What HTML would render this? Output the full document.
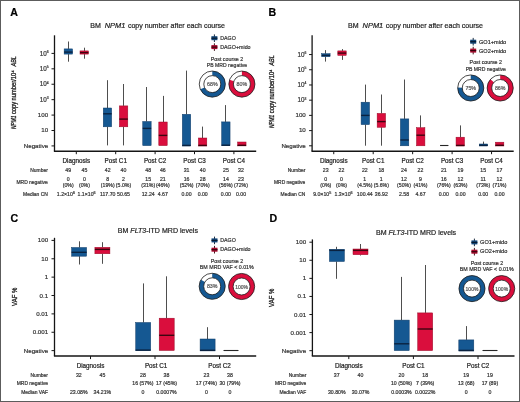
<!DOCTYPE html>
<html><head><meta charset="utf-8"><style>
html,body{margin:0;padding:0;background:#fff;width:520px;height:402px;overflow:hidden;}
svg{display:block;will-change:transform;font-family:"Liberation Sans", sans-serif;}
text{stroke-width:0.2px;paint-order:stroke;}
</style></head><body>
<svg width="520" height="402" viewBox="0 0 520 402" font-family='"Liberation Sans", sans-serif'>
<rect x="0" y="0" width="520" height="402" fill="#ffffff"/>
<text x="10.20" y="16.30" font-size="10.6" fill="#000" font-weight="bold" stroke="#000">A</text>
<text y="27.6" font-size="7.05" fill="#222" stroke="#222"><tspan x="90.2">BM</tspan><tspan x="104.7" font-style="italic" textLength="20.6" lengthAdjust="spacingAndGlyphs">NPM1</tspan><tspan x="127.9">copy number after each course</tspan></text>
<line x1="54.50" y1="35.30" x2="54.50" y2="151.30" stroke="#151515" stroke-width="1.3"/>
<line x1="53.90" y1="151.30" x2="256.20" y2="151.30" stroke="#151515" stroke-width="1.4"/>
<line x1="51.50" y1="53.40" x2="54.50" y2="53.40" stroke="#151515" stroke-width="1"/>
<text x="48.7" y="55.5" font-size="6.3" text-anchor="end" fill="#333333" stroke="#333333">10<tspan font-size="3.4" dy="-2.6">6</tspan></text>
<line x1="51.50" y1="68.82" x2="54.50" y2="68.82" stroke="#151515" stroke-width="1"/>
<text x="48.7" y="70.91999999999999" font-size="6.3" text-anchor="end" fill="#333333" stroke="#333333">10<tspan font-size="3.4" dy="-2.6">5</tspan></text>
<line x1="51.50" y1="84.24" x2="54.50" y2="84.24" stroke="#151515" stroke-width="1"/>
<text x="48.7" y="86.33999999999999" font-size="6.3" text-anchor="end" fill="#333333" stroke="#333333">10<tspan font-size="3.4" dy="-2.6">4</tspan></text>
<line x1="51.50" y1="99.66" x2="54.50" y2="99.66" stroke="#151515" stroke-width="1"/>
<text x="48.7" y="101.75999999999999" font-size="6.3" text-anchor="end" fill="#333333" stroke="#333333">10<tspan font-size="3.4" dy="-2.6">3</tspan></text>
<line x1="51.50" y1="115.08" x2="54.50" y2="115.08" stroke="#151515" stroke-width="1"/>
<text x="48.20" y="116.78" font-size="6.2" text-anchor="end" fill="#333333" stroke="#333333">100</text>
<line x1="51.50" y1="130.50" x2="54.50" y2="130.50" stroke="#151515" stroke-width="1"/>
<text x="48.20" y="132.20" font-size="6.2" text-anchor="end" fill="#333333" stroke="#333333">10</text>
<line x1="51.50" y1="145.92" x2="54.50" y2="145.92" stroke="#151515" stroke-width="1"/>
<text x="48.20" y="147.62" font-size="6.2" text-anchor="end" fill="#333333" stroke="#333333">Negative</text>
<text transform="translate(16.3,128.90) rotate(-90)" x="0" y="0" font-size="6.7" fill="#222" font-style="italic" textLength="13.4" lengthAdjust="spacingAndGlyphs" style="stroke-width:0.3px" stroke="#222">NPM1</text>
<text transform="translate(16.3,114.10) rotate(-90)" x="0" y="0" font-size="6.7" fill="#222" textLength="12.4" lengthAdjust="spacingAndGlyphs" style="stroke-width:0.3px" stroke="#222">copy</text>
<text transform="translate(16.3,100.40) rotate(-90)" x="0" y="0" font-size="6.7" fill="#222" textLength="30.2" lengthAdjust="spacingAndGlyphs" style="stroke-width:0.3px" stroke="#222">number/10⁴</text>
<text transform="translate(16.3,66.50) rotate(-90)" x="0" y="0" font-size="6.7" fill="#222" font-style="italic" textLength="10.4" lengthAdjust="spacingAndGlyphs" style="stroke-width:0.3px" stroke="#222">ABL</text>
<line x1="76.30" y1="151.20" x2="76.30" y2="154.20" stroke="#151515" stroke-width="1"/>
<text x="76.30" y="163.00" font-size="6.3" text-anchor="middle" fill="#222" stroke="#222">Diagnosis</text>
<line x1="115.70" y1="151.20" x2="115.70" y2="154.20" stroke="#151515" stroke-width="1"/>
<text x="115.70" y="163.00" font-size="6.3" text-anchor="middle" fill="#222" stroke="#222">Post C1</text>
<line x1="155.10" y1="151.20" x2="155.10" y2="154.20" stroke="#151515" stroke-width="1"/>
<text x="155.10" y="163.00" font-size="6.3" text-anchor="middle" fill="#222" stroke="#222">Post C2</text>
<line x1="194.50" y1="151.20" x2="194.50" y2="154.20" stroke="#151515" stroke-width="1"/>
<text x="194.50" y="163.00" font-size="6.3" text-anchor="middle" fill="#222" stroke="#222">Post C3</text>
<line x1="233.90" y1="151.20" x2="233.90" y2="154.20" stroke="#151515" stroke-width="1"/>
<text x="233.90" y="163.00" font-size="6.3" text-anchor="middle" fill="#222" stroke="#222">Post C4</text>
<line x1="68.50" y1="41.50" x2="68.50" y2="48.90" stroke="#4e4e4e" stroke-width="1.0"/>
<line x1="68.50" y1="54.10" x2="68.50" y2="61.70" stroke="#4e4e4e" stroke-width="1.0"/>
<rect x="64.15" y="48.90" width="8.40" height="5.20" fill="#155892" stroke="#0f3b66" stroke-width="0.5"/>
<line x1="64.15" y1="52.10" x2="72.55" y2="52.10" stroke="#0a2240" stroke-width="1.4"/>
<line x1="84.50" y1="47.70" x2="84.50" y2="50.90" stroke="#4e4e4e" stroke-width="1.0"/>
<line x1="84.50" y1="54.10" x2="84.50" y2="58.70" stroke="#4e4e4e" stroke-width="1.0"/>
<rect x="80.00" y="50.90" width="8.40" height="3.20" fill="#da0e3d" stroke="#9a0a26" stroke-width="0.5"/>
<line x1="80.00" y1="52.60" x2="88.40" y2="52.60" stroke="#3d0510" stroke-width="1.4"/>
<line x1="107.50" y1="80.20" x2="107.50" y2="108.00" stroke="#4e4e4e" stroke-width="1.0"/>
<line x1="107.50" y1="126.80" x2="107.50" y2="145.40" stroke="#4e4e4e" stroke-width="1.0"/>
<rect x="103.25" y="108.00" width="8.40" height="18.80" fill="#155892" stroke="#0f3b66" stroke-width="0.5"/>
<line x1="103.25" y1="113.80" x2="111.65" y2="113.80" stroke="#0a2240" stroke-width="1.4"/>
<line x1="123.50" y1="84.00" x2="123.50" y2="105.90" stroke="#4e4e4e" stroke-width="1.0"/>
<line x1="123.50" y1="126.80" x2="123.50" y2="145.40" stroke="#4e4e4e" stroke-width="1.0"/>
<rect x="119.40" y="105.90" width="8.40" height="20.90" fill="#da0e3d" stroke="#9a0a26" stroke-width="0.5"/>
<line x1="119.40" y1="119.10" x2="127.80" y2="119.10" stroke="#3d0510" stroke-width="1.4"/>
<line x1="146.50" y1="87.00" x2="146.50" y2="121.50" stroke="#4e4e4e" stroke-width="1.0"/>
<rect x="142.75" y="121.50" width="8.40" height="24.10" fill="#155892" stroke="#0f3b66" stroke-width="0.5"/>
<line x1="142.75" y1="128.40" x2="151.15" y2="128.40" stroke="#0a2240" stroke-width="1.4"/>
<line x1="163.50" y1="95.90" x2="163.50" y2="122.00" stroke="#4e4e4e" stroke-width="1.0"/>
<rect x="158.80" y="122.00" width="8.40" height="23.60" fill="#da0e3d" stroke="#9a0a26" stroke-width="0.5"/>
<line x1="158.80" y1="135.40" x2="167.20" y2="135.40" stroke="#3d0510" stroke-width="1.4"/>
<line x1="186.50" y1="70.60" x2="186.50" y2="114.30" stroke="#4e4e4e" stroke-width="1.0"/>
<rect x="182.30" y="114.30" width="8.40" height="31.70" fill="#155892" stroke="#0f3b66" stroke-width="0.5"/>
<line x1="182.30" y1="145.40" x2="190.70" y2="145.40" stroke="#0a2240" stroke-width="1.4"/>
<line x1="202.50" y1="126.60" x2="202.50" y2="138.00" stroke="#4e4e4e" stroke-width="1.0"/>
<rect x="198.40" y="138.00" width="8.40" height="8.00" fill="#da0e3d" stroke="#9a0a26" stroke-width="0.5"/>
<line x1="198.40" y1="145.40" x2="206.80" y2="145.40" stroke="#3d0510" stroke-width="1.4"/>
<line x1="225.50" y1="105.10" x2="225.50" y2="121.90" stroke="#4e4e4e" stroke-width="1.0"/>
<rect x="221.65" y="121.90" width="8.40" height="23.80" fill="#155892" stroke="#0f3b66" stroke-width="0.5"/>
<line x1="221.65" y1="145.20" x2="230.05" y2="145.20" stroke="#0a2240" stroke-width="1.4"/>
<rect x="237.65" y="142.00" width="8.40" height="3.90" fill="#da0e3d" stroke="#9a0a26" stroke-width="0.5"/>
<line x1="237.65" y1="145.30" x2="246.05" y2="145.30" stroke="#3d0510" stroke-width="1.4"/>
<line x1="214.40" y1="34.40" x2="214.40" y2="42.00" stroke="#06182c" stroke-width="0.9"/>
<rect x="211.4" y="36.2" width="6" height="4" fill="#124577"/>
<line x1="211.40" y1="38.20" x2="217.40" y2="38.20" stroke="#06182c" stroke-width="1.1"/>
<line x1="214.40" y1="43.30" x2="214.40" y2="50.90" stroke="#2e0208" stroke-width="0.9"/>
<rect x="211.4" y="45.1" width="6" height="4" fill="#a80a2e"/>
<line x1="211.40" y1="47.10" x2="217.40" y2="47.10" stroke="#2e0208" stroke-width="1.1"/>
<text x="220.20" y="40.10" font-size="5.3" fill="#333" stroke="#333">DAGO</text>
<text x="220.20" y="49.00" font-size="5.3" fill="#333" textLength="30.4" lengthAdjust="spacingAndGlyphs" stroke="#333">DAGO+mido</text>
<text x="227.00" y="60.90" font-size="5.3" text-anchor="middle" fill="#333" stroke="#333">Post course 2</text>
<text x="227.00" y="67.10" font-size="5.3" text-anchor="middle" fill="#333" textLength="40.3" lengthAdjust="spacingAndGlyphs" stroke="#333">PB MRD negative</text>
<circle cx="212.3" cy="84.1" r="10.775" fill="none" stroke="#ffffff" stroke-width="4.550000000000001"/>
<circle cx="212.3" cy="84.1" r="10.775" fill="none" stroke="#155892" stroke-width="4.550000000000001" stroke-dasharray="46.04 67.70" transform="rotate(-90 212.3 84.1)"/>
<circle cx="212.3" cy="84.1" r="13.05" fill="none" stroke="#1c1c1c" stroke-width="0.8"/>
<circle cx="212.3" cy="84.1" r="8.5" fill="none" stroke="#1c1c1c" stroke-width="0.8"/>
<text x="212.30" y="86.10" font-size="5.3" text-anchor="middle" fill="#555" stroke="#555">68%</text>
<circle cx="241.9" cy="84.1" r="10.775" fill="none" stroke="#ffffff" stroke-width="4.550000000000001"/>
<circle cx="241.9" cy="84.1" r="10.775" fill="none" stroke="#da0e3d" stroke-width="4.550000000000001" stroke-dasharray="54.16 67.70" transform="rotate(-90 241.9 84.1)"/>
<circle cx="241.9" cy="84.1" r="13.05" fill="none" stroke="#1c1c1c" stroke-width="0.8"/>
<circle cx="241.9" cy="84.1" r="8.5" fill="none" stroke="#1c1c1c" stroke-width="0.8"/>
<text x="241.90" y="86.10" font-size="5.3" text-anchor="middle" fill="#555" stroke="#555">80%</text>
<text x="47.80" y="171.80" font-size="4.95" text-anchor="end" fill="#333333" stroke="#333333">Number</text>
<text x="47.80" y="183.80" font-size="4.95" text-anchor="end" fill="#333333" stroke="#333333">MRD negative</text>
<text x="47.80" y="195.90" font-size="4.95" text-anchor="end" fill="#333333" stroke="#333333">Median CN</text>
<text x="68.20" y="171.90" font-size="5.2" text-anchor="middle" fill="#333333" stroke="#333333">49</text>
<text x="68.20" y="180.80" font-size="5.2" text-anchor="middle" fill="#333333" stroke="#333333">0</text>
<text x="68.20" y="186.70" font-size="5.2" text-anchor="middle" fill="#333333" stroke="#333333">(0%)</text>
<text x="65.9" y="195.9" font-size="5.2" text-anchor="middle" fill="#333333" stroke="#333333">1.2×10<tspan font-size="3.7" dy="-2.0">6</tspan></text>
<text x="84.40" y="171.90" font-size="5.2" text-anchor="middle" fill="#333333" stroke="#333333">45</text>
<text x="84.40" y="180.80" font-size="5.2" text-anchor="middle" fill="#333333" stroke="#333333">0</text>
<text x="84.40" y="186.70" font-size="5.2" text-anchor="middle" fill="#333333" stroke="#333333">(0%)</text>
<text x="86.6" y="195.9" font-size="5.2" text-anchor="middle" fill="#333333" stroke="#333333">1.1×10<tspan font-size="3.7" dy="-2.0">6</tspan></text>
<text x="107.70" y="171.90" font-size="5.2" text-anchor="middle" fill="#333333" stroke="#333333">42</text>
<text x="107.70" y="180.80" font-size="5.2" text-anchor="middle" fill="#333333" stroke="#333333">8</text>
<text x="107.70" y="186.70" font-size="5.2" text-anchor="middle" fill="#333333" stroke="#333333">(19%)</text>
<text x="107.70" y="195.90" font-size="5.2" text-anchor="middle" fill="#333333" stroke="#333333">117.70</text>
<text x="123.50" y="171.90" font-size="5.2" text-anchor="middle" fill="#333333" stroke="#333333">40</text>
<text x="123.50" y="180.80" font-size="5.2" text-anchor="middle" fill="#333333" stroke="#333333">2</text>
<text x="123.50" y="186.70" font-size="5.2" text-anchor="middle" fill="#333333" stroke="#333333">(5.0%)</text>
<text x="123.50" y="195.90" font-size="5.2" text-anchor="middle" fill="#333333" stroke="#333333">50.65</text>
<text x="148.20" y="171.90" font-size="5.2" text-anchor="middle" fill="#333333" stroke="#333333">48</text>
<text x="148.20" y="180.80" font-size="5.2" text-anchor="middle" fill="#333333" stroke="#333333">15</text>
<text x="148.20" y="186.70" font-size="5.2" text-anchor="middle" fill="#333333" stroke="#333333">(31%)</text>
<text x="148.20" y="195.90" font-size="5.2" text-anchor="middle" fill="#333333" stroke="#333333">12.24</text>
<text x="162.80" y="171.90" font-size="5.2" text-anchor="middle" fill="#333333" stroke="#333333">46</text>
<text x="162.80" y="180.80" font-size="5.2" text-anchor="middle" fill="#333333" stroke="#333333">21</text>
<text x="162.80" y="186.70" font-size="5.2" text-anchor="middle" fill="#333333" stroke="#333333">(46%)</text>
<text x="162.80" y="195.90" font-size="5.2" text-anchor="middle" fill="#333333" stroke="#333333">4.67</text>
<text x="186.60" y="171.90" font-size="5.2" text-anchor="middle" fill="#333333" stroke="#333333">31</text>
<text x="186.60" y="180.80" font-size="5.2" text-anchor="middle" fill="#333333" stroke="#333333">16</text>
<text x="186.60" y="186.70" font-size="5.2" text-anchor="middle" fill="#333333" stroke="#333333">(52%)</text>
<text x="186.60" y="195.90" font-size="5.2" text-anchor="middle" fill="#333333" stroke="#333333">0.00</text>
<text x="202.70" y="171.90" font-size="5.2" text-anchor="middle" fill="#333333" stroke="#333333">40</text>
<text x="202.70" y="180.80" font-size="5.2" text-anchor="middle" fill="#333333" stroke="#333333">28</text>
<text x="202.70" y="186.70" font-size="5.2" text-anchor="middle" fill="#333333" stroke="#333333">(70%)</text>
<text x="202.70" y="195.90" font-size="5.2" text-anchor="middle" fill="#333333" stroke="#333333">0.00</text>
<text x="225.90" y="171.90" font-size="5.2" text-anchor="middle" fill="#333333" stroke="#333333">25</text>
<text x="225.90" y="180.80" font-size="5.2" text-anchor="middle" fill="#333333" stroke="#333333">14</text>
<text x="225.90" y="186.70" font-size="5.2" text-anchor="middle" fill="#333333" stroke="#333333">(56%)</text>
<text x="225.90" y="195.90" font-size="5.2" text-anchor="middle" fill="#333333" stroke="#333333">0.00</text>
<text x="241.00" y="171.90" font-size="5.2" text-anchor="middle" fill="#333333" stroke="#333333">32</text>
<text x="241.00" y="180.80" font-size="5.2" text-anchor="middle" fill="#333333" stroke="#333333">23</text>
<text x="241.00" y="186.70" font-size="5.2" text-anchor="middle" fill="#333333" stroke="#333333">(72%)</text>
<text x="241.00" y="195.90" font-size="5.2" text-anchor="middle" fill="#333333" stroke="#333333">0.00</text>
<text x="268.50" y="16.30" font-size="10.6" fill="#000" font-weight="bold" stroke="#000">B</text>
<text y="27.6" font-size="7.05" fill="#222" stroke="#222"><tspan x="348.1">BM</tspan><tspan x="362.6" font-style="italic" textLength="20.6" lengthAdjust="spacingAndGlyphs">NPM1</tspan><tspan x="385.8">copy number after each course</tspan></text>
<line x1="312.10" y1="35.30" x2="312.10" y2="151.30" stroke="#151515" stroke-width="1.3"/>
<line x1="311.50" y1="151.30" x2="513.70" y2="151.30" stroke="#151515" stroke-width="1.4"/>
<line x1="309.10" y1="54.55" x2="312.10" y2="54.55" stroke="#151515" stroke-width="1"/>
<text x="306.3" y="56.65" font-size="6.3" text-anchor="end" fill="#333333" stroke="#333333">10<tspan font-size="3.4" dy="-2.6">6</tspan></text>
<line x1="309.10" y1="69.76" x2="312.10" y2="69.76" stroke="#151515" stroke-width="1"/>
<text x="306.3" y="71.85999999999999" font-size="6.3" text-anchor="end" fill="#333333" stroke="#333333">10<tspan font-size="3.4" dy="-2.6">5</tspan></text>
<line x1="309.10" y1="84.97" x2="312.10" y2="84.97" stroke="#151515" stroke-width="1"/>
<text x="306.3" y="87.07" font-size="6.3" text-anchor="end" fill="#333333" stroke="#333333">10<tspan font-size="3.4" dy="-2.6">4</tspan></text>
<line x1="309.10" y1="100.18" x2="312.10" y2="100.18" stroke="#151515" stroke-width="1"/>
<text x="306.3" y="102.28" font-size="6.3" text-anchor="end" fill="#333333" stroke="#333333">10<tspan font-size="3.4" dy="-2.6">3</tspan></text>
<line x1="309.10" y1="115.39" x2="312.10" y2="115.39" stroke="#151515" stroke-width="1"/>
<text x="305.80" y="117.09" font-size="6.2" text-anchor="end" fill="#333333" stroke="#333333">100</text>
<line x1="309.10" y1="130.60" x2="312.10" y2="130.60" stroke="#151515" stroke-width="1"/>
<text x="305.80" y="132.30" font-size="6.2" text-anchor="end" fill="#333333" stroke="#333333">10</text>
<line x1="309.10" y1="145.81" x2="312.10" y2="145.81" stroke="#151515" stroke-width="1"/>
<text x="305.80" y="147.51" font-size="6.2" text-anchor="end" fill="#333333" stroke="#333333">Negative</text>
<text transform="translate(274.2,128.10) rotate(-90)" x="0" y="0" font-size="6.7" fill="#222" font-style="italic" textLength="13.4" lengthAdjust="spacingAndGlyphs" style="stroke-width:0.3px" stroke="#222">NPM1</text>
<text transform="translate(274.2,113.30) rotate(-90)" x="0" y="0" font-size="6.7" fill="#222" textLength="12.4" lengthAdjust="spacingAndGlyphs" style="stroke-width:0.3px" stroke="#222">copy</text>
<text transform="translate(274.2,99.60) rotate(-90)" x="0" y="0" font-size="6.7" fill="#222" textLength="30.2" lengthAdjust="spacingAndGlyphs" style="stroke-width:0.3px" stroke="#222">number/10⁴</text>
<text transform="translate(274.2,65.70) rotate(-90)" x="0" y="0" font-size="6.7" fill="#222" font-style="italic" textLength="10.4" lengthAdjust="spacingAndGlyphs" style="stroke-width:0.3px" stroke="#222">ABL</text>
<line x1="333.75" y1="151.20" x2="333.75" y2="154.20" stroke="#151515" stroke-width="1"/>
<text x="333.75" y="163.00" font-size="6.3" text-anchor="middle" fill="#222" stroke="#222">Diagnosis</text>
<line x1="373.20" y1="151.20" x2="373.20" y2="154.20" stroke="#151515" stroke-width="1"/>
<text x="373.20" y="163.00" font-size="6.3" text-anchor="middle" fill="#222" stroke="#222">Post C1</text>
<line x1="412.65" y1="151.20" x2="412.65" y2="154.20" stroke="#151515" stroke-width="1"/>
<text x="412.65" y="163.00" font-size="6.3" text-anchor="middle" fill="#222" stroke="#222">Post C2</text>
<line x1="452.10" y1="151.20" x2="452.10" y2="154.20" stroke="#151515" stroke-width="1"/>
<text x="452.10" y="163.00" font-size="6.3" text-anchor="middle" fill="#222" stroke="#222">Post C3</text>
<line x1="491.55" y1="151.20" x2="491.55" y2="154.20" stroke="#151515" stroke-width="1"/>
<text x="491.55" y="163.00" font-size="6.3" text-anchor="middle" fill="#222" stroke="#222">Post C4</text>
<line x1="325.50" y1="50.10" x2="325.50" y2="53.70" stroke="#4e4e4e" stroke-width="1.0"/>
<line x1="325.50" y1="56.70" x2="325.50" y2="61.60" stroke="#4e4e4e" stroke-width="1.0"/>
<rect x="321.70" y="53.70" width="8.40" height="3.00" fill="#155892" stroke="#0f3b66" stroke-width="0.5"/>
<line x1="321.70" y1="55.40" x2="330.10" y2="55.40" stroke="#0a2240" stroke-width="1.4"/>
<line x1="342.50" y1="49.10" x2="342.50" y2="50.90" stroke="#4e4e4e" stroke-width="1.0"/>
<line x1="342.50" y1="55.40" x2="342.50" y2="59.90" stroke="#4e4e4e" stroke-width="1.0"/>
<rect x="337.80" y="50.90" width="8.40" height="4.50" fill="#da0e3d" stroke="#9a0a26" stroke-width="0.5"/>
<line x1="337.80" y1="53.10" x2="346.20" y2="53.10" stroke="#3d0510" stroke-width="1.4"/>
<line x1="365.50" y1="84.60" x2="365.50" y2="102.20" stroke="#4e4e4e" stroke-width="1.0"/>
<line x1="365.50" y1="124.60" x2="365.50" y2="145.70" stroke="#4e4e4e" stroke-width="1.0"/>
<rect x="361.10" y="102.20" width="8.40" height="22.40" fill="#155892" stroke="#0f3b66" stroke-width="0.5"/>
<line x1="361.10" y1="115.40" x2="369.50" y2="115.40" stroke="#0a2240" stroke-width="1.4"/>
<line x1="381.50" y1="94.50" x2="381.50" y2="113.40" stroke="#4e4e4e" stroke-width="1.0"/>
<line x1="381.50" y1="127.30" x2="381.50" y2="145.70" stroke="#4e4e4e" stroke-width="1.0"/>
<rect x="377.15" y="113.40" width="8.40" height="13.90" fill="#da0e3d" stroke="#9a0a26" stroke-width="0.5"/>
<line x1="377.15" y1="121.60" x2="385.55" y2="121.60" stroke="#3d0510" stroke-width="1.4"/>
<line x1="404.50" y1="79.50" x2="404.50" y2="118.90" stroke="#4e4e4e" stroke-width="1.0"/>
<rect x="400.40" y="118.90" width="8.40" height="26.90" fill="#155892" stroke="#0f3b66" stroke-width="0.5"/>
<line x1="400.40" y1="140.00" x2="408.80" y2="140.00" stroke="#0a2240" stroke-width="1.4"/>
<line x1="420.50" y1="115.40" x2="420.50" y2="127.70" stroke="#4e4e4e" stroke-width="1.0"/>
<rect x="416.50" y="127.70" width="8.40" height="18.10" fill="#da0e3d" stroke="#9a0a26" stroke-width="0.5"/>
<line x1="416.50" y1="135.20" x2="424.90" y2="135.20" stroke="#3d0510" stroke-width="1.4"/>
<line x1="440.05" y1="145.50" x2="448.45" y2="145.50" stroke="#262626" stroke-width="1.1"/>
<line x1="460.50" y1="125.40" x2="460.50" y2="137.20" stroke="#4e4e4e" stroke-width="1.0"/>
<rect x="456.05" y="137.20" width="8.40" height="8.80" fill="#da0e3d" stroke="#9a0a26" stroke-width="0.5"/>
<line x1="456.05" y1="145.40" x2="464.45" y2="145.40" stroke="#3d0510" stroke-width="1.4"/>
<line x1="483.50" y1="141.60" x2="483.50" y2="144.00" stroke="#4e4e4e" stroke-width="1.0"/>
<rect x="479.25" y="144.00" width="8.40" height="2.00" fill="#155892" stroke="#0f3b66" stroke-width="0.5"/>
<line x1="479.25" y1="145.30" x2="487.65" y2="145.30" stroke="#0a2240" stroke-width="1.4"/>
<rect x="495.45" y="142.20" width="8.40" height="3.80" fill="#da0e3d" stroke="#9a0a26" stroke-width="0.5"/>
<line x1="495.45" y1="145.30" x2="503.85" y2="145.30" stroke="#3d0510" stroke-width="1.4"/>
<line x1="473.20" y1="37.90" x2="473.20" y2="45.50" stroke="#06182c" stroke-width="0.9"/>
<rect x="470.2" y="39.7" width="6" height="4" fill="#124577"/>
<line x1="470.20" y1="41.70" x2="476.20" y2="41.70" stroke="#06182c" stroke-width="1.1"/>
<line x1="473.20" y1="46.80" x2="473.20" y2="54.40" stroke="#2e0208" stroke-width="0.9"/>
<rect x="470.2" y="48.6" width="6" height="4" fill="#a80a2e"/>
<line x1="470.20" y1="50.60" x2="476.20" y2="50.60" stroke="#2e0208" stroke-width="1.1"/>
<text x="479.00" y="43.60" font-size="5.3" fill="#333" textLength="27.2" lengthAdjust="spacingAndGlyphs" stroke="#333">GO1+mido</text>
<text x="479.00" y="52.50" font-size="5.3" fill="#333" textLength="27.2" lengthAdjust="spacingAndGlyphs" stroke="#333">GO2+mido</text>
<text x="485.80" y="64.40" font-size="5.3" text-anchor="middle" fill="#333" stroke="#333">Post course 2</text>
<text x="485.80" y="70.60" font-size="5.3" text-anchor="middle" fill="#333" textLength="40.3" lengthAdjust="spacingAndGlyphs" stroke="#333">PB MRD negative</text>
<circle cx="470.75" cy="88.0" r="10.775" fill="none" stroke="#ffffff" stroke-width="4.550000000000001"/>
<circle cx="470.75" cy="88.0" r="10.775" fill="none" stroke="#155892" stroke-width="4.550000000000001" stroke-dasharray="50.78 67.70" transform="rotate(-90 470.75 88.0)"/>
<circle cx="470.75" cy="88.0" r="13.05" fill="none" stroke="#1c1c1c" stroke-width="0.8"/>
<circle cx="470.75" cy="88.0" r="8.5" fill="none" stroke="#1c1c1c" stroke-width="0.8"/>
<text x="470.75" y="90.00" font-size="5.3" text-anchor="middle" fill="#555" stroke="#555">75%</text>
<circle cx="500.2" cy="88.0" r="10.775" fill="none" stroke="#ffffff" stroke-width="4.550000000000001"/>
<circle cx="500.2" cy="88.0" r="10.775" fill="none" stroke="#da0e3d" stroke-width="4.550000000000001" stroke-dasharray="58.22 67.70" transform="rotate(-90 500.2 88.0)"/>
<circle cx="500.2" cy="88.0" r="13.05" fill="none" stroke="#1c1c1c" stroke-width="0.8"/>
<circle cx="500.2" cy="88.0" r="8.5" fill="none" stroke="#1c1c1c" stroke-width="0.8"/>
<text x="500.20" y="90.00" font-size="5.3" text-anchor="middle" fill="#555" stroke="#555">86%</text>
<text x="305.30" y="171.80" font-size="4.95" text-anchor="end" fill="#333333" stroke="#333333">Number</text>
<text x="305.30" y="183.80" font-size="4.95" text-anchor="end" fill="#333333" stroke="#333333">MRD negative</text>
<text x="305.30" y="195.90" font-size="4.95" text-anchor="end" fill="#333333" stroke="#333333">Median CN</text>
<text x="325.75" y="171.90" font-size="5.2" text-anchor="middle" fill="#333333" stroke="#333333">23</text>
<text x="325.75" y="180.80" font-size="5.2" text-anchor="middle" fill="#333333" stroke="#333333">0</text>
<text x="325.75" y="186.70" font-size="5.2" text-anchor="middle" fill="#333333" stroke="#333333">(0%)</text>
<text x="322.2" y="195.9" font-size="5.2" text-anchor="middle" fill="#333333" stroke="#333333">9.0×10<tspan font-size="3.7" dy="-2.0">5</tspan></text>
<text x="341.50" y="171.90" font-size="5.2" text-anchor="middle" fill="#333333" stroke="#333333">22</text>
<text x="341.50" y="180.80" font-size="5.2" text-anchor="middle" fill="#333333" stroke="#333333">0</text>
<text x="341.50" y="186.70" font-size="5.2" text-anchor="middle" fill="#333333" stroke="#333333">(0%)</text>
<text x="343.6" y="195.9" font-size="5.2" text-anchor="middle" fill="#333333" stroke="#333333">1.3×10<tspan font-size="3.7" dy="-2.0">6</tspan></text>
<text x="364.80" y="171.90" font-size="5.2" text-anchor="middle" fill="#333333" stroke="#333333">22</text>
<text x="364.80" y="180.80" font-size="5.2" text-anchor="middle" fill="#333333" stroke="#333333">1</text>
<text x="364.80" y="186.70" font-size="5.2" text-anchor="middle" fill="#333333" stroke="#333333">(4.5%)</text>
<text x="364.80" y="195.90" font-size="5.2" text-anchor="middle" fill="#333333" stroke="#333333">100.44</text>
<text x="381.30" y="171.90" font-size="5.2" text-anchor="middle" fill="#333333" stroke="#333333">18</text>
<text x="381.30" y="180.80" font-size="5.2" text-anchor="middle" fill="#333333" stroke="#333333">1</text>
<text x="381.30" y="186.70" font-size="5.2" text-anchor="middle" fill="#333333" stroke="#333333">(5.6%)</text>
<text x="381.30" y="195.90" font-size="5.2" text-anchor="middle" fill="#333333" stroke="#333333">36.92</text>
<text x="404.00" y="171.90" font-size="5.2" text-anchor="middle" fill="#333333" stroke="#333333">24</text>
<text x="404.00" y="180.80" font-size="5.2" text-anchor="middle" fill="#333333" stroke="#333333">12</text>
<text x="404.00" y="186.70" font-size="5.2" text-anchor="middle" fill="#333333" stroke="#333333">(50%)</text>
<text x="404.00" y="195.90" font-size="5.2" text-anchor="middle" fill="#333333" stroke="#333333">2.58</text>
<text x="420.50" y="171.90" font-size="5.2" text-anchor="middle" fill="#333333" stroke="#333333">22</text>
<text x="420.50" y="180.80" font-size="5.2" text-anchor="middle" fill="#333333" stroke="#333333">9</text>
<text x="420.50" y="186.70" font-size="5.2" text-anchor="middle" fill="#333333" stroke="#333333">(41%)</text>
<text x="420.50" y="195.90" font-size="5.2" text-anchor="middle" fill="#333333" stroke="#333333">4.67</text>
<text x="443.80" y="171.90" font-size="5.2" text-anchor="middle" fill="#333333" stroke="#333333">21</text>
<text x="443.80" y="180.80" font-size="5.2" text-anchor="middle" fill="#333333" stroke="#333333">16</text>
<text x="443.80" y="186.70" font-size="5.2" text-anchor="middle" fill="#333333" stroke="#333333">(76%)</text>
<text x="443.80" y="195.90" font-size="5.2" text-anchor="middle" fill="#333333" stroke="#333333">0.00</text>
<text x="460.50" y="171.90" font-size="5.2" text-anchor="middle" fill="#333333" stroke="#333333">19</text>
<text x="460.50" y="180.80" font-size="5.2" text-anchor="middle" fill="#333333" stroke="#333333">12</text>
<text x="460.50" y="186.70" font-size="5.2" text-anchor="middle" fill="#333333" stroke="#333333">(63%)</text>
<text x="460.50" y="195.90" font-size="5.2" text-anchor="middle" fill="#333333" stroke="#333333">0.00</text>
<text x="483.20" y="171.90" font-size="5.2" text-anchor="middle" fill="#333333" stroke="#333333">15</text>
<text x="483.20" y="180.80" font-size="5.2" text-anchor="middle" fill="#333333" stroke="#333333">11</text>
<text x="483.20" y="186.70" font-size="5.2" text-anchor="middle" fill="#333333" stroke="#333333">(73%)</text>
<text x="483.20" y="195.90" font-size="5.2" text-anchor="middle" fill="#333333" stroke="#333333">0.00</text>
<text x="499.50" y="171.90" font-size="5.2" text-anchor="middle" fill="#333333" stroke="#333333">17</text>
<text x="499.50" y="180.80" font-size="5.2" text-anchor="middle" fill="#333333" stroke="#333333">12</text>
<text x="499.50" y="186.70" font-size="5.2" text-anchor="middle" fill="#333333" stroke="#333333">(71%)</text>
<text x="499.50" y="195.90" font-size="5.2" text-anchor="middle" fill="#333333" stroke="#333333">0.00</text>
<text x="10.40" y="222.30" font-size="10.6" fill="#000" font-weight="bold" stroke="#000">C</text>
<text x="117.8" y="233.4" font-size="7.05" fill="#222" stroke="#222">BM <tspan font-style="italic">FLT3</tspan>-ITD MRD levels</text>
<line x1="54.50" y1="237.80" x2="54.50" y2="355.95" stroke="#151515" stroke-width="1.3"/>
<line x1="53.90" y1="355.95" x2="256.20" y2="355.95" stroke="#151515" stroke-width="1.45"/>
<line x1="51.50" y1="240.40" x2="54.50" y2="240.40" stroke="#151515" stroke-width="1"/>
<text x="48.20" y="242.40" font-size="6.2" text-anchor="end" fill="#333333" stroke="#333333">100</text>
<line x1="51.50" y1="258.77" x2="54.50" y2="258.77" stroke="#151515" stroke-width="1"/>
<text x="48.20" y="260.77" font-size="6.2" text-anchor="end" fill="#333333" stroke="#333333">10</text>
<line x1="51.50" y1="277.14" x2="54.50" y2="277.14" stroke="#151515" stroke-width="1"/>
<text x="48.20" y="279.14" font-size="6.2" text-anchor="end" fill="#333333" stroke="#333333">1</text>
<line x1="51.50" y1="295.51" x2="54.50" y2="295.51" stroke="#151515" stroke-width="1"/>
<text x="48.20" y="297.51" font-size="6.2" text-anchor="end" fill="#333333" stroke="#333333">0.1</text>
<line x1="51.50" y1="313.88" x2="54.50" y2="313.88" stroke="#151515" stroke-width="1"/>
<text x="48.20" y="315.88" font-size="6.2" text-anchor="end" fill="#333333" stroke="#333333">0.01</text>
<line x1="51.50" y1="332.25" x2="54.50" y2="332.25" stroke="#151515" stroke-width="1"/>
<text x="48.20" y="334.25" font-size="6.2" text-anchor="end" fill="#333333" stroke="#333333">0.001</text>
<line x1="51.50" y1="350.62" x2="54.50" y2="350.62" stroke="#151515" stroke-width="1"/>
<text x="48.20" y="352.62" font-size="6.2" text-anchor="end" fill="#333333" stroke="#333333">Negative</text>
<text transform="translate(16.8,305.9) rotate(-90)" font-size="7" fill="#222" textLength="18.2" lengthAdjust="spacingAndGlyphs" style="stroke-width:0.3px" stroke="#222">VAF %</text>
<line x1="90.50" y1="356.10" x2="90.50" y2="359.10" stroke="#151515" stroke-width="1"/>
<text x="90.50" y="367.60" font-size="6.3" text-anchor="middle" fill="#222" stroke="#222">Diagnosis</text>
<line x1="155.00" y1="356.10" x2="155.00" y2="359.10" stroke="#151515" stroke-width="1"/>
<text x="156.10" y="367.60" font-size="6.3" text-anchor="middle" fill="#222" stroke="#222">Post C1</text>
<line x1="219.50" y1="356.10" x2="219.50" y2="359.10" stroke="#151515" stroke-width="1"/>
<text x="219.50" y="367.60" font-size="6.3" text-anchor="middle" fill="#222" stroke="#222">Post C2</text>
<line x1="79.50" y1="241.30" x2="79.50" y2="247.50" stroke="#4e4e4e" stroke-width="1.0"/>
<line x1="79.50" y1="256.20" x2="79.50" y2="264.50" stroke="#4e4e4e" stroke-width="1.0"/>
<rect x="71.60" y="247.50" width="15.00" height="8.70" fill="#155892" stroke="#0f3b66" stroke-width="0.5"/>
<line x1="71.60" y1="252.30" x2="86.60" y2="252.30" stroke="#0a2240" stroke-width="1.4"/>
<line x1="102.50" y1="242.20" x2="102.50" y2="247.30" stroke="#4e4e4e" stroke-width="1.0"/>
<line x1="102.50" y1="253.75" x2="102.50" y2="263.80" stroke="#4e4e4e" stroke-width="1.0"/>
<rect x="94.90" y="247.30" width="15.00" height="6.45" fill="#da0e3d" stroke="#9a0a26" stroke-width="0.5"/>
<line x1="94.90" y1="249.40" x2="109.90" y2="249.40" stroke="#3d0510" stroke-width="1.4"/>
<line x1="143.50" y1="283.40" x2="143.50" y2="322.50" stroke="#4e4e4e" stroke-width="1.0"/>
<rect x="135.70" y="322.50" width="15.00" height="28.20" fill="#155892" stroke="#0f3b66" stroke-width="0.5"/>
<line x1="135.70" y1="350.10" x2="150.70" y2="350.10" stroke="#0a2240" stroke-width="1.4"/>
<line x1="166.50" y1="276.30" x2="166.50" y2="318.20" stroke="#4e4e4e" stroke-width="1.0"/>
<rect x="159.20" y="318.20" width="15.00" height="32.30" fill="#da0e3d" stroke="#9a0a26" stroke-width="0.5"/>
<line x1="159.20" y1="335.30" x2="174.20" y2="335.30" stroke="#3d0510" stroke-width="1.4"/>
<line x1="207.50" y1="327.20" x2="207.50" y2="339.00" stroke="#4e4e4e" stroke-width="1.0"/>
<rect x="200.10" y="339.00" width="15.00" height="11.90" fill="#155892" stroke="#0f3b66" stroke-width="0.5"/>
<line x1="200.10" y1="350.30" x2="215.10" y2="350.30" stroke="#0a2240" stroke-width="1.4"/>
<line x1="223.50" y1="350.50" x2="238.50" y2="350.50" stroke="#262626" stroke-width="1.1"/>
<line x1="214.50" y1="236.60" x2="214.50" y2="244.20" stroke="#06182c" stroke-width="0.9"/>
<rect x="211.5" y="238.4" width="6" height="4" fill="#124577"/>
<line x1="211.50" y1="240.40" x2="217.50" y2="240.40" stroke="#06182c" stroke-width="1.1"/>
<line x1="214.50" y1="245.90" x2="214.50" y2="253.50" stroke="#2e0208" stroke-width="0.9"/>
<rect x="211.5" y="247.7" width="6" height="4" fill="#a80a2e"/>
<line x1="211.50" y1="249.70" x2="217.50" y2="249.70" stroke="#2e0208" stroke-width="1.1"/>
<text x="220.20" y="242.00" font-size="5.3" fill="#333" stroke="#333">DAGO</text>
<text x="220.20" y="251.40" font-size="5.3" fill="#333" textLength="30.4" lengthAdjust="spacingAndGlyphs" stroke="#333">DAGO+mido</text>
<text x="227.00" y="263.30" font-size="5.3" text-anchor="middle" fill="#333" stroke="#333">Post course 2</text>
<text x="226.80" y="269.20" font-size="5.3" text-anchor="middle" fill="#333" stroke="#333">BM MRD VAF &lt; 0.01%</text>
<circle cx="212.2" cy="286.3" r="10.775" fill="none" stroke="#ffffff" stroke-width="4.550000000000001"/>
<circle cx="212.2" cy="286.3" r="10.775" fill="none" stroke="#155892" stroke-width="4.550000000000001" stroke-dasharray="56.19 67.70" transform="rotate(-90 212.2 286.3)"/>
<circle cx="212.2" cy="286.3" r="13.05" fill="none" stroke="#1c1c1c" stroke-width="0.8"/>
<circle cx="212.2" cy="286.3" r="8.5" fill="none" stroke="#1c1c1c" stroke-width="0.8"/>
<text x="212.20" y="288.30" font-size="5.3" text-anchor="middle" fill="#555" stroke="#555">83%</text>
<circle cx="241.6" cy="286.5" r="10.775" fill="none" stroke="#ffffff" stroke-width="4.550000000000001"/>
<circle cx="241.6" cy="286.5" r="10.775" fill="none" stroke="#da0e3d" stroke-width="4.550000000000001" stroke-dasharray="67.70 67.70" transform="rotate(-90 241.6 286.5)"/>
<circle cx="241.6" cy="286.5" r="13.05" fill="none" stroke="#1c1c1c" stroke-width="0.8"/>
<circle cx="241.6" cy="286.5" r="8.5" fill="none" stroke="#1c1c1c" stroke-width="0.8"/>
<text x="241.60" y="288.50" font-size="5.0" text-anchor="middle" fill="#555" stroke="#555">100%</text>
<text x="48.00" y="377.20" font-size="4.95" text-anchor="end" fill="#333333" stroke="#333333">Number</text>
<text x="48.00" y="385.00" font-size="4.95" text-anchor="end" fill="#333333" stroke="#333333">MRD negative</text>
<text x="48.00" y="394.30" font-size="4.95" text-anchor="end" fill="#333333" stroke="#333333">Median VAF</text>
<text x="78.80" y="377.20" font-size="5.2" text-anchor="middle" fill="#333333" stroke="#333333">32</text>
<text x="78.80" y="385.00" font-size="5.2" text-anchor="middle" fill="#333333" stroke="#333333"></text>
<text x="78.80" y="394.30" font-size="5.2" text-anchor="middle" fill="#333333" stroke="#333333">23.08%</text>
<text x="102.40" y="377.20" font-size="5.2" text-anchor="middle" fill="#333333" stroke="#333333">45</text>
<text x="102.40" y="385.00" font-size="5.2" text-anchor="middle" fill="#333333" stroke="#333333"></text>
<text x="102.40" y="394.30" font-size="5.2" text-anchor="middle" fill="#333333" stroke="#333333">34.21%</text>
<text x="142.90" y="377.20" font-size="5.2" text-anchor="middle" fill="#333333" stroke="#333333">28</text>
<text x="142.90" y="385.00" font-size="5.2" text-anchor="middle" fill="#333333" stroke="#333333">16 (57%)</text>
<text x="142.90" y="394.30" font-size="5.2" text-anchor="middle" fill="#333333" stroke="#333333">0</text>
<text x="166.50" y="377.20" font-size="5.2" text-anchor="middle" fill="#333333" stroke="#333333">38</text>
<text x="166.50" y="385.00" font-size="5.2" text-anchor="middle" fill="#333333" stroke="#333333">17 (45%)</text>
<text x="166.50" y="394.30" font-size="5.2" text-anchor="middle" fill="#333333" stroke="#333333">0.0007%</text>
<text x="206.40" y="377.20" font-size="5.2" text-anchor="middle" fill="#333333" stroke="#333333">23</text>
<text x="206.40" y="385.00" font-size="5.2" text-anchor="middle" fill="#333333" stroke="#333333">17 (74%)</text>
<text x="206.40" y="394.30" font-size="5.2" text-anchor="middle" fill="#333333" stroke="#333333">0</text>
<text x="230.00" y="377.20" font-size="5.2" text-anchor="middle" fill="#333333" stroke="#333333">38</text>
<text x="230.00" y="385.00" font-size="5.2" text-anchor="middle" fill="#333333" stroke="#333333">30 (79%)</text>
<text x="230.00" y="394.30" font-size="5.2" text-anchor="middle" fill="#333333" stroke="#333333">0</text>
<text x="269.60" y="222.30" font-size="10.6" fill="#000" font-weight="bold" stroke="#000">D</text>
<text x="376.0" y="235.4" font-size="7.05" fill="#222" stroke="#222">BM <tspan font-style="italic">FLT3</tspan>-ITD MRD levels</text>
<line x1="312.40" y1="239.40" x2="312.40" y2="355.95" stroke="#151515" stroke-width="1.3"/>
<line x1="311.80" y1="355.95" x2="514.50" y2="355.95" stroke="#151515" stroke-width="1.45"/>
<line x1="309.40" y1="242.20" x2="312.40" y2="242.20" stroke="#151515" stroke-width="1"/>
<text x="306.10" y="244.20" font-size="6.2" text-anchor="end" fill="#333333" stroke="#333333">100</text>
<line x1="309.40" y1="260.28" x2="312.40" y2="260.28" stroke="#151515" stroke-width="1"/>
<text x="306.10" y="262.28" font-size="6.2" text-anchor="end" fill="#333333" stroke="#333333">10</text>
<line x1="309.40" y1="278.36" x2="312.40" y2="278.36" stroke="#151515" stroke-width="1"/>
<text x="306.10" y="280.36" font-size="6.2" text-anchor="end" fill="#333333" stroke="#333333">1</text>
<line x1="309.40" y1="296.44" x2="312.40" y2="296.44" stroke="#151515" stroke-width="1"/>
<text x="306.10" y="298.44" font-size="6.2" text-anchor="end" fill="#333333" stroke="#333333">0.1</text>
<line x1="309.40" y1="314.52" x2="312.40" y2="314.52" stroke="#151515" stroke-width="1"/>
<text x="306.10" y="316.52" font-size="6.2" text-anchor="end" fill="#333333" stroke="#333333">0.01</text>
<line x1="309.40" y1="332.60" x2="312.40" y2="332.60" stroke="#151515" stroke-width="1"/>
<text x="306.10" y="334.60" font-size="6.2" text-anchor="end" fill="#333333" stroke="#333333">0.001</text>
<line x1="309.40" y1="350.68" x2="312.40" y2="350.68" stroke="#151515" stroke-width="1"/>
<text x="306.10" y="352.68" font-size="6.2" text-anchor="end" fill="#333333" stroke="#333333">Negative</text>
<text transform="translate(274.4,306.9) rotate(-90)" font-size="7" fill="#222" textLength="18.2" lengthAdjust="spacingAndGlyphs" style="stroke-width:0.3px" stroke="#222">VAF %</text>
<line x1="348.80" y1="356.10" x2="348.80" y2="359.10" stroke="#151515" stroke-width="1"/>
<text x="348.80" y="367.60" font-size="6.3" text-anchor="middle" fill="#222" stroke="#222">Diagnosis</text>
<line x1="413.40" y1="356.10" x2="413.40" y2="359.10" stroke="#151515" stroke-width="1"/>
<text x="413.40" y="367.60" font-size="6.3" text-anchor="middle" fill="#222" stroke="#222">Post C1</text>
<line x1="478.00" y1="356.10" x2="478.00" y2="359.10" stroke="#151515" stroke-width="1"/>
<text x="478.00" y="367.60" font-size="6.3" text-anchor="middle" fill="#222" stroke="#222">Post C2</text>
<line x1="336.50" y1="246.80" x2="336.50" y2="249.30" stroke="#4e4e4e" stroke-width="1.0"/>
<line x1="336.50" y1="261.50" x2="336.50" y2="278.80" stroke="#4e4e4e" stroke-width="1.0"/>
<rect x="329.40" y="249.30" width="15.00" height="12.20" fill="#155892" stroke="#0f3b66" stroke-width="0.5"/>
<line x1="329.40" y1="250.40" x2="344.40" y2="250.40" stroke="#0a2240" stroke-width="1.4"/>
<line x1="360.50" y1="244.00" x2="360.50" y2="249.00" stroke="#4e4e4e" stroke-width="1.0"/>
<line x1="360.50" y1="254.70" x2="360.50" y2="255.50" stroke="#4e4e4e" stroke-width="1.0"/>
<rect x="353.00" y="249.00" width="15.00" height="5.70" fill="#da0e3d" stroke="#9a0a26" stroke-width="0.5"/>
<line x1="353.00" y1="250.40" x2="368.00" y2="250.40" stroke="#3d0510" stroke-width="1.4"/>
<line x1="401.50" y1="276.90" x2="401.50" y2="320.10" stroke="#4e4e4e" stroke-width="1.0"/>
<rect x="394.20" y="320.10" width="15.00" height="30.50" fill="#155892" stroke="#0f3b66" stroke-width="0.5"/>
<line x1="394.20" y1="343.80" x2="409.20" y2="343.80" stroke="#0a2240" stroke-width="1.4"/>
<line x1="425.50" y1="265.00" x2="425.50" y2="312.90" stroke="#4e4e4e" stroke-width="1.0"/>
<rect x="417.70" y="312.90" width="15.00" height="37.70" fill="#da0e3d" stroke="#9a0a26" stroke-width="0.5"/>
<line x1="417.70" y1="329.00" x2="432.70" y2="329.00" stroke="#3d0510" stroke-width="1.4"/>
<line x1="466.50" y1="326.10" x2="466.50" y2="339.90" stroke="#4e4e4e" stroke-width="1.0"/>
<rect x="458.80" y="339.90" width="15.00" height="11.10" fill="#155892" stroke="#0f3b66" stroke-width="0.5"/>
<line x1="458.80" y1="350.40" x2="473.80" y2="350.40" stroke="#0a2240" stroke-width="1.4"/>
<line x1="482.50" y1="350.50" x2="497.50" y2="350.50" stroke="#262626" stroke-width="1.1"/>
<line x1="474.40" y1="238.60" x2="474.40" y2="246.20" stroke="#06182c" stroke-width="0.9"/>
<rect x="471.40000000000003" y="240.4" width="6" height="4" fill="#124577"/>
<line x1="471.40" y1="242.40" x2="477.40" y2="242.40" stroke="#06182c" stroke-width="1.1"/>
<line x1="474.40" y1="247.90" x2="474.40" y2="255.50" stroke="#2e0208" stroke-width="0.9"/>
<rect x="471.40000000000003" y="249.7" width="6" height="4" fill="#a80a2e"/>
<line x1="471.40" y1="251.70" x2="477.40" y2="251.70" stroke="#2e0208" stroke-width="1.1"/>
<text x="480.10" y="244.00" font-size="5.3" fill="#333" textLength="27.2" lengthAdjust="spacingAndGlyphs" stroke="#333">GO1+mido</text>
<text x="480.10" y="253.40" font-size="5.3" fill="#333" textLength="27.2" lengthAdjust="spacingAndGlyphs" stroke="#333">GO2+mido</text>
<text x="486.90" y="265.30" font-size="5.3" text-anchor="middle" fill="#333" stroke="#333">Post course 2</text>
<text x="486.70" y="271.20" font-size="5.3" text-anchor="middle" fill="#333" stroke="#333">BM MRD VAF &lt; 0.01%</text>
<circle cx="472.0" cy="288.6" r="10.775" fill="none" stroke="#ffffff" stroke-width="4.550000000000001"/>
<circle cx="472.0" cy="288.6" r="10.775" fill="none" stroke="#155892" stroke-width="4.550000000000001" stroke-dasharray="67.70 67.70" transform="rotate(-90 472.0 288.6)"/>
<circle cx="472.0" cy="288.6" r="13.05" fill="none" stroke="#1c1c1c" stroke-width="0.8"/>
<circle cx="472.0" cy="288.6" r="8.5" fill="none" stroke="#1c1c1c" stroke-width="0.8"/>
<text x="472.00" y="290.60" font-size="5.0" text-anchor="middle" fill="#555" stroke="#555">100%</text>
<circle cx="501.7" cy="288.6" r="10.775" fill="none" stroke="#ffffff" stroke-width="4.550000000000001"/>
<circle cx="501.7" cy="288.6" r="10.775" fill="none" stroke="#da0e3d" stroke-width="4.550000000000001" stroke-dasharray="67.70 67.70" transform="rotate(-90 501.7 288.6)"/>
<circle cx="501.7" cy="288.6" r="13.05" fill="none" stroke="#1c1c1c" stroke-width="0.8"/>
<circle cx="501.7" cy="288.6" r="8.5" fill="none" stroke="#1c1c1c" stroke-width="0.8"/>
<text x="501.70" y="290.60" font-size="5.0" text-anchor="middle" fill="#555" stroke="#555">100%</text>
<text x="306.30" y="377.20" font-size="4.95" text-anchor="end" fill="#333333" stroke="#333333">Number</text>
<text x="306.30" y="385.00" font-size="4.95" text-anchor="end" fill="#333333" stroke="#333333">MRD negative</text>
<text x="306.30" y="394.30" font-size="4.95" text-anchor="end" fill="#333333" stroke="#333333">Median VAF</text>
<text x="336.75" y="377.20" font-size="5.2" text-anchor="middle" fill="#333333" stroke="#333333">37</text>
<text x="336.75" y="385.00" font-size="5.2" text-anchor="middle" fill="#333333" stroke="#333333"></text>
<text x="336.75" y="394.30" font-size="5.2" text-anchor="middle" fill="#333333" stroke="#333333">30.80%</text>
<text x="360.50" y="377.20" font-size="5.2" text-anchor="middle" fill="#333333" stroke="#333333">40</text>
<text x="360.50" y="385.00" font-size="5.2" text-anchor="middle" fill="#333333" stroke="#333333"></text>
<text x="360.50" y="394.30" font-size="5.2" text-anchor="middle" fill="#333333" stroke="#333333">30.07%</text>
<text x="401.50" y="377.20" font-size="5.2" text-anchor="middle" fill="#333333" stroke="#333333">20</text>
<text x="401.50" y="385.00" font-size="5.2" text-anchor="middle" fill="#333333" stroke="#333333">10 (50%)</text>
<text x="401.50" y="394.30" font-size="5.2" text-anchor="middle" fill="#333333" stroke="#333333">0.0003%</text>
<text x="425.20" y="377.20" font-size="5.2" text-anchor="middle" fill="#333333" stroke="#333333">18</text>
<text x="425.20" y="385.00" font-size="5.2" text-anchor="middle" fill="#333333" stroke="#333333">7 (39%)</text>
<text x="425.20" y="394.30" font-size="5.2" text-anchor="middle" fill="#333333" stroke="#333333">0.0022%</text>
<text x="466.20" y="377.20" font-size="5.2" text-anchor="middle" fill="#333333" stroke="#333333">19</text>
<text x="466.20" y="385.00" font-size="5.2" text-anchor="middle" fill="#333333" stroke="#333333">13 (68)</text>
<text x="466.20" y="394.30" font-size="5.2" text-anchor="middle" fill="#333333" stroke="#333333">0</text>
<text x="489.90" y="377.20" font-size="5.2" text-anchor="middle" fill="#333333" stroke="#333333">19</text>
<text x="489.90" y="385.00" font-size="5.2" text-anchor="middle" fill="#333333" stroke="#333333">17 (89)</text>
<text x="489.90" y="394.30" font-size="5.2" text-anchor="middle" fill="#333333" stroke="#333333">0</text>
<rect x="0.5" y="0.5" width="519" height="401" fill="none" stroke="#5c5c5c" stroke-width="1"/>
</svg>
</body></html>
